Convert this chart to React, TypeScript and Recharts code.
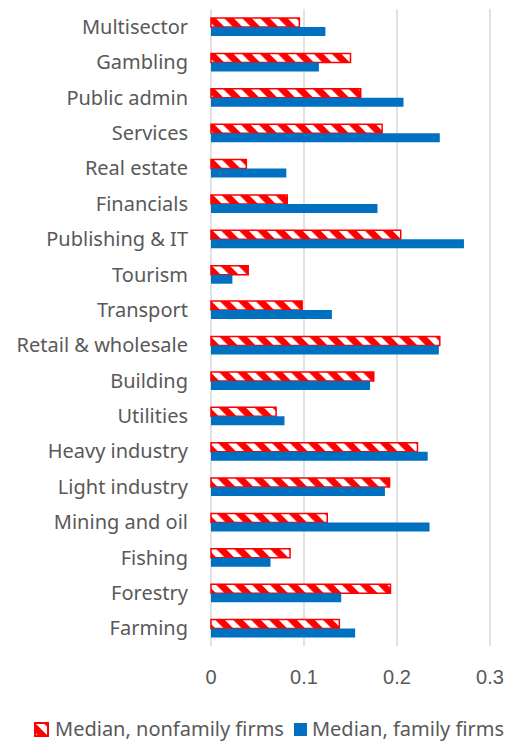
import React from "react"
import { BarChart, Bar, XAxis, YAxis, CartesianGrid } from "recharts"

const sectors = [
  "Multisector",
  "Gambling",
  "Public admin",
  "Services",
  "Real estate",
  "Financials",
  "Publishing & IT",
  "Tourism",
  "Transport",
  "Retail & wholesale",
  "Building",
  "Utilities",
  "Heavy industry",
  "Light industry",
  "Mining and oil",
  "Fishing",
  "Forestry",
  "Farming",
]
const nonfamily = [
  0.095, 0.15, 0.161, 0.184, 0.038, 0.082, 0.204, 0.04, 0.098, 0.246, 0.175,
  0.07, 0.222, 0.192, 0.125, 0.085, 0.193, 0.138,
]
const family = [
  0.123, 0.116, 0.207, 0.246, 0.081, 0.179, 0.272, 0.023, 0.13, 0.245, 0.171,
  0.079, 0.233, 0.187, 0.235, 0.064, 0.14, 0.155,
]
const xTicks = [0, 0.1, 0.2, 0.3]
const seriesNames = ["Median, nonfamily firms", "Median, family firms"]

const RED = "#FF0000"
const BLUE = "#0070C0"
const TEXT = "#595959"
const LABEL_FONT = "'Noto Sans', sans-serif"

const data = sectors.map((name, i) => ({
  name,
  nonfamily: nonfamily[i],
  family: family[i],
}))

const Hatch = ({ id }: { id: string }) => (
  <pattern
    id={id}
    patternUnits="userSpaceOnUse"
    width={12.7}
    height={12.7}
    patternTransform="rotate(-45)"
  >
    <rect width={12.7} height={12.7} fill={RED} />
    <rect x={0} width={6} height={12.7} fill="#ffffff" />
  </pattern>
)

export default function App() {
  return (
    <div
      style={{
        position: "absolute",
        left: 0,
        top: 0,
        width: 512,
        height: 742,
        background: "#fff",
      }}
    >
      <BarChart
        width={512}
        height={700}
        data={data}
        layout="vertical"
        margin={{ top: 9, right: 22, bottom: 0, left: 0 }}
        barGap={0}
        barSize={9}
      >
        <defs>
          <Hatch id="hatch" />
        </defs>
        <CartesianGrid
          horizontal={false}
          stroke="#D9D9D9"
          strokeWidth={1.5}
        />
        <XAxis
          type="number"
          domain={[0, 0.3]}
          ticks={xTicks}
          tickFormatter={(v: number) => String(v)}
          axisLine={false}
          tickLine={false}
          tickMargin={18}
          height={54}
          tick={{
            fill: TEXT,
            fontSize: 20,
            fontFamily: "'Liberation Sans', Arial, sans-serif",
          }}
        />
        <YAxis
          type="category"
          dataKey="name"
          width={211}
          axisLine={false}
          tickLine={false}
          tickMargin={17}
          interval={0}
          tick={{ fill: TEXT, fontSize: 20, fontFamily: LABEL_FONT }}
        />
        <Bar
          dataKey="nonfamily"
          name={seriesNames[0]}
          fill="url(#hatch)"
          stroke={RED}
          strokeWidth={1.5}
          isAnimationActive={false}
        />
        <Bar
          dataKey="family"
          name={seriesNames[1]}
          fill={BLUE}
          isAnimationActive={false}
        />
      </BarChart>
      <div
        style={{
          position: "absolute",
          left: 34,
          top: 719,
          display: "flex",
          alignItems: "center",
          fontFamily: LABEL_FONT,
          fontSize: 20,
          lineHeight: "20px",
          color: TEXT,
          whiteSpace: "nowrap",
        }}
      >
        <svg width={15} height={15} style={{ marginRight: 6 }}>
          <defs>
            <Hatch id="hatch-legend" />
          </defs>
          <rect
            x={1}
            y={1}
            width={13}
            height={13}
            fill="url(#hatch-legend)"
            stroke={RED}
            strokeWidth={2}
          />
        </svg>
        <span>{seriesNames[0]}</span>
        <svg width={13} height={13} style={{ marginLeft: 10, marginRight: 5 }}>
          <rect width={13} height={13} fill={BLUE} />
        </svg>
        <span>{seriesNames[1]}</span>
      </div>
    </div>
  )
}
